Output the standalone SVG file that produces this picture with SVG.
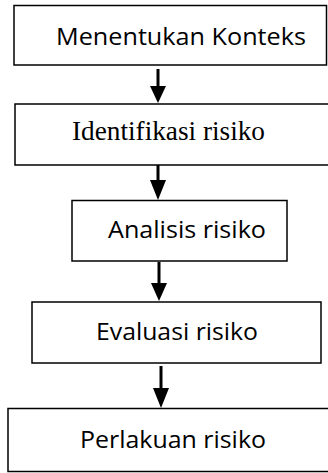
<svg xmlns="http://www.w3.org/2000/svg" width="328" height="473" viewBox="0 0 328 473">
<style>
.box{fill:#fff;stroke:#000;stroke-width:1.5}
.sans{font-family:"Open Sans","Noto Sans","Liberation Sans",sans-serif;font-size:24px;fill:#000}
.serif{font-family:"Liberation Serif","Times New Roman",serif;font-size:27px;fill:#000}
.shaft{stroke:#000;stroke-width:3;fill:none}
.head{fill:#000}
</style>
<rect width="328" height="473" fill="#fff"/>
<g id="connectors">
<line class="shaft" x1="158" y1="69" x2="158" y2="88"/>
<polygon class="head" points="150,86 166,86 158,103"/>
<line class="shaft" x1="158" y1="165" x2="158" y2="182"/>
<polygon class="head" points="150,180 166,180 158,200"/>
<line class="shaft" x1="159" y1="262" x2="159" y2="285"/>
<polygon class="head" points="151,283 167,283 159,301"/>
<line class="shaft" x1="161" y1="366" x2="161" y2="390"/>
<polygon class="head" points="153,388 169,388 161,408"/>
</g>
<g id="n1">
<rect class="box" x="14" y="5.5" width="312.5" height="59.5"/>
<text class="sans" x="56" y="45" textLength="250" lengthAdjust="spacingAndGlyphs">Menentukan Konteks</text>
</g>
<g id="n2">
<rect class="box" x="15" y="104" width="320" height="61"/>
<text class="serif" x="72" y="140" textLength="193" lengthAdjust="spacingAndGlyphs">Identifikasi risiko</text>
</g>
<g id="n3">
<rect class="box" x="72" y="200.5" width="215" height="60.5"/>
<text class="sans" x="108" y="238" textLength="158" lengthAdjust="spacingAndGlyphs">Analisis risiko</text>
</g>
<g id="n4">
<rect class="box" x="32" y="302" width="289" height="61"/>
<text class="sans" x="96" y="340" textLength="162" lengthAdjust="spacingAndGlyphs">Evaluasi risiko</text>
</g>
<g id="n5">
<rect class="box" x="8" y="408.5" width="330" height="63"/>
<text class="sans" x="80" y="448" textLength="186" lengthAdjust="spacingAndGlyphs">Perlakuan risiko</text>
</g>
</svg>
